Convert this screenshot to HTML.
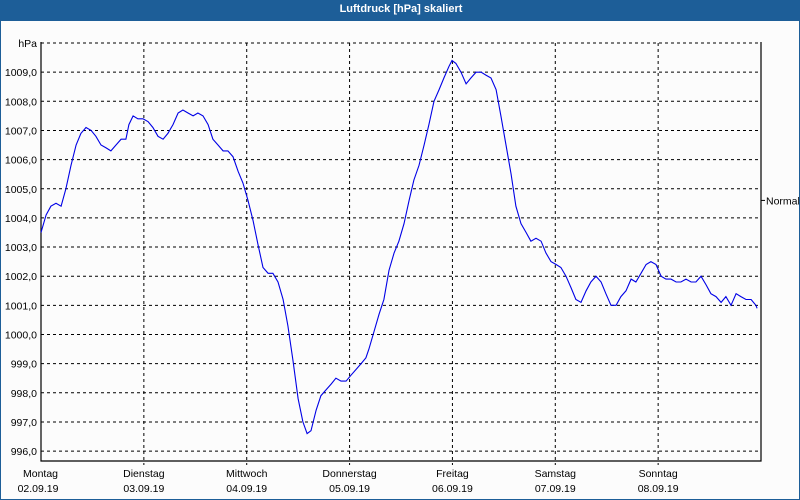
<!DOCTYPE html>
<html><head><meta charset="utf-8">
<style>
html,body{margin:0;padding:0;background:#fff;}
#wrap{position:relative;width:800px;height:500px;overflow:hidden;background:#fcfcfc;box-sizing:border-box;border:1px solid #1d5e98;border-top:none;}
#title{position:absolute;left:0;top:0;width:800px;height:21px;background:#1d5e98;color:#fff;font:bold 11px "Liberation Sans",sans-serif;text-align:center;line-height:19px;}
svg{position:absolute;left:0;top:0;}
text{font-family:"Liberation Sans",sans-serif;font-size:10.5px;fill:#000;}
</style></head>
<body>
<div id="wrap">
<div id="title">Luftdruck [hPa] skaliert</div>
<svg id="chart" width="800" height="500"></svg>
</div>
<script>
const yTicks=[1009,1008,1007,1006,1005,1004,1003,1002,1001,1000,999,998,997,996];
const dayNames=["Montag","Dienstag","Mittwoch","Donnerstag","Freitag","Samstag","Sonntag"];
const dayDates=["02.09.19","03.09.19","04.09.19","05.09.19","06.09.19","07.09.19","08.09.19"];
const normalValue=1004.6;
const hours=[0,1.2,2.3,3.5,4.7,5.8,7.0,8.2,9.3,10.5,11.7,12.8,14.0,15.2,16.3,17.5,18.7,19.8,20.5,21.5,22.6,23.8,25.0,26.1,27.3,28.5,29.6,30.8,32.0,33.1,34.3,35.5,36.6,37.8,39.0,40.1,41.3,42.5,43.6,44.8,46.0,47.1,48.3,49.5,50.6,51.8,53.0,54.1,55.3,56.5,57.6,58.8,60.0,61.1,62.1,63.0,64.2,65.3,66.5,67.7,68.8,70.0,71.2,72.3,73.5,74.7,75.8,76.5,77.7,78.9,80.0,81.2,82.4,83.5,84.7,85.9,87.0,88.2,89.4,90.5,91.7,92.9,94.0,95.2,95.9,96.8,98.0,99.2,100.3,101.5,102.7,103.8,105.0,106.2,107.3,108.5,109.7,110.8,112.0,113.2,114.3,115.5,116.7,117.8,119.0,120.2,121.3,122.5,123.7,124.8,126.0,127.2,128.3,129.5,130.7,131.8,133.0,134.2,135.3,136.5,137.7,138.8,140.0,141.2,142.3,143.5,144.7,145.8,147.0,148.2,149.3,150.5,151.7,152.8,154.0,155.2,156.3,157.5,158.7,159.8,161.0,162.2,163.3,164.5,165.7,166.8,167.1];
const pressure=[1003.5,1004.1,1004.4,1004.5,1004.4,1005.0,1005.8,1006.5,1006.9,1007.1,1007.0,1006.8,1006.5,1006.4,1006.3,1006.5,1006.7,1006.7,1007.2,1007.5,1007.4,1007.4,1007.3,1007.1,1006.8,1006.7,1006.9,1007.2,1007.6,1007.7,1007.6,1007.5,1007.6,1007.5,1007.2,1006.7,1006.5,1006.3,1006.3,1006.1,1005.6,1005.2,1004.6,1003.9,1003.1,1002.3,1002.1,1002.1,1001.8,1001.2,1000.3,999.1,997.8,997.0,996.6,996.7,997.4,997.9,998.1,998.3,998.5,998.4,998.4,998.6,998.8,999.0,999.2,999.5,1000.1,1000.7,1001.2,1002.2,1002.8,1003.2,1003.8,1004.6,1005.3,1005.8,1006.5,1007.2,1008.0,1008.4,1008.8,1009.2,1009.4,1009.3,1009.0,1008.6,1008.8,1009.0,1009.0,1008.9,1008.8,1008.4,1007.5,1006.5,1005.5,1004.4,1003.8,1003.5,1003.2,1003.3,1003.2,1002.8,1002.5,1002.4,1002.3,1002.0,1001.6,1001.2,1001.1,1001.5,1001.8,1002.0,1001.8,1001.4,1001.0,1001.0,1001.3,1001.5,1001.9,1001.8,1002.1,1002.4,1002.5,1002.4,1002.0,1001.9,1001.9,1001.8,1001.8,1001.9,1001.8,1001.8,1002.0,1001.7,1001.4,1001.3,1001.1,1001.3,1001.0,1001.4,1001.3,1001.2,1001.2,1001.0,1000.9];

const NS="http://www.w3.org/2000/svg";
const svg=document.getElementById('chart');
const L=40,R=760,T=43,B=461;
const yMax=1010,pxPerHpa=29.15;
function X(h){return L+(R-L)*h/168;}
function Y(v){return T+(yMax-v)*pxPerHpa;}
function mk(tag,attrs){const e=document.createElementNS(NS,tag);for(const k in attrs)e.setAttribute(k,attrs[k]);svg.appendChild(e);return e;}

const topGrid=mk('line',{x1:L,y1:T,x2:R,y2:T,stroke:'#000','stroke-dasharray':'3,3'});


const unit=mk('text',{x:36,y:T+4,'text-anchor':'end'});unit.textContent='hPa';


yTicks.forEach(v=>{
  const g=mk('line',{x1:L,y1:Y(v),x2:R,y2:Y(v),stroke:'#000','stroke-dasharray':'3,3'});
  
  
  const t=mk('text',{x:36,y:Y(v)+4,'text-anchor':'end'});
  t.textContent=v.toFixed(1).replace('.',',');
  
  
});
dayNames.forEach((d,i)=>{
  const x=X(i*24);
  if(i>0){const g=mk('line',{x1:x,y1:T,x2:x,y2:B+4,stroke:'#000','stroke-dasharray':'3,3'});
  
  }
  const t1=mk('text',{x:x,y:477,'text-anchor':'middle'});
  if(i==0){t1.setAttribute('x',22);t1.setAttribute('text-anchor','start');}
  t1.textContent=d;
  
  
  const t2=mk('text',{x:x,y:492,'text-anchor':'middle'});
  if(i==0)t2.setAttribute('x',37);
  t2.textContent=dayDates[i];
  
  
});
const ax=mk('polyline',{points:`${L},${T-1} ${L},${B} ${R},${B} ${R},${T-1}`,fill:'none',stroke:'#000','stroke-width':1.2});


const nt=mk('line',{x1:R,y1:Y(normalValue),x2:R+4,y2:Y(normalValue),stroke:'#000'});


const nl=mk('text',{x:765,y:Y(normalValue)+4});nl.textContent='Normal';


const n=Math.min(hours.length,pressure.length);
let pts=[];for(let i=0;i<n;i++)pts.push(X(hours[i]).toFixed(1)+','+Y(pressure[i]).toFixed(1));
const line=mk('polyline',{points:pts.join(' '),fill:'none',stroke:'#0000e6','stroke-width':1.1});


</script>
</body></html>
